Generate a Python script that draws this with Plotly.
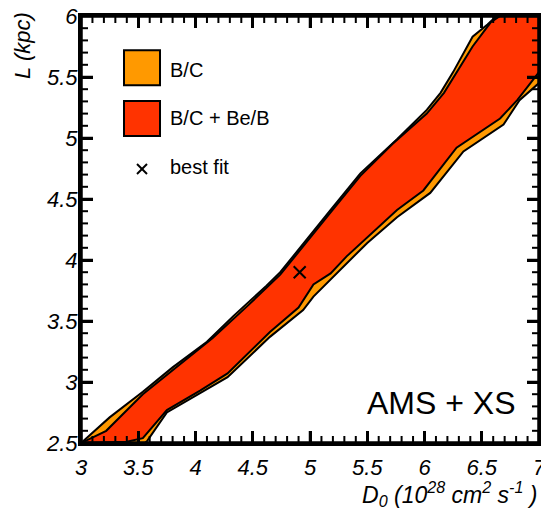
import plotly.graph_objects as go

# B/C allowed region (outer, orange)
bc_d0 = [3.00, 3.25, 3.54, 3.80, 4.10, 4.33, 4.62, 4.74, 5.18, 5.44, 5.76, 6.02, 6.14, 6.25, 6.42, 6.55, 6.63,
         7.00, 7.00,
         6.83, 6.69, 6.34, 6.05, 5.76, 5.50, 5.18, 5.03, 4.94, 4.65, 4.28, 4.04, 3.75, 3.58, 3.56, 3.00]
bc_L = [2.50, 2.71, 2.92, 3.12, 3.33, 3.54, 3.79, 3.90, 4.41, 4.71, 4.99, 5.23, 5.37, 5.54, 5.83, 5.93, 6.00,
        6.00, 5.45,
        5.31, 5.11, 4.89, 4.55, 4.35, 4.14, 3.84, 3.70, 3.59, 3.37, 3.04, 2.91, 2.75, 2.52, 2.50, 2.50]

# B/C + Be/B allowed region (inner, red)
bcbe_d0 = [3.00, 3.22, 3.54, 3.84, 4.15, 4.45, 4.74, 5.18, 5.44, 5.72, 6.02, 6.17, 6.42, 6.58, 6.66,
           7.00, 7.00,
           6.81, 6.66, 6.28, 5.99, 5.76, 5.32, 5.18, 5.03, 4.90, 4.65, 4.28, 4.04, 3.75, 3.54, 3.40, 3.00]
bcbe_L = [2.50, 2.60, 2.90, 3.13, 3.36, 3.62, 3.88, 4.39, 4.69, 4.95, 5.20, 5.37, 5.75, 5.95, 6.00,
          6.00, 5.54,
          5.31, 5.16, 4.92, 4.57, 4.41, 4.03, 3.89, 3.80, 3.61, 3.41, 3.07, 2.93, 2.77, 2.54, 2.51, 2.50]

best_d0 = [4.91]
best_L = [3.90]

x_ticks = [3, 3.5, 4, 4.5, 5, 5.5, 6, 6.5, 7]
x_labels = ["3", "3.5", "4", "4.5", "5", "5.5", "6", "6.5", "7"]
y_ticks = [2.5, 3, 3.5, 4, 4.5, 5, 5.5, 6]
y_labels = ["2.5", "3", "3.5", "4", "4.5", "5", "5.5", "6"]
minor_per_major = 5

ORANGE = "#FF9900"
RED = "#FF3300"
FONT = "Liberation Sans, Arial, Helvetica, sans-serif"

PW, PH = 458, 427          # plot-area size in px
MAJ_LEN, MIN_LEN = 12, 7   # tick lengths in px

x0r, x1r = x_ticks[0], x_ticks[-1]
y0r, y1r = y_ticks[0], y_ticks[-1]
px_x = (x1r - x0r) / PW    # data units per px along x
px_y = (y1r - y0r) / PH    # data units per px along y


def minor_positions(ticks):
    out = []
    for a, b in zip(ticks[:-1], ticks[1:]):
        step = (b - a) / minor_per_major
        out += [round(a + k * step, 6) for k in range(1, minor_per_major)]
    return out


def tick_path(xvals, yvals, ln):
    """Inside ticks on all four sides, one polyline with gaps."""
    xs, ys = [], []
    dy, dx = ln * px_y, ln * px_x
    for v in xvals:
        xs += [v, v, None, v, v, None]
        ys += [y0r, y0r + dy, None, y1r - dy, y1r, None]
    for v in yvals:
        xs += [x0r, x0r + dx, None, x1r - dx, x1r, None]
        ys += [v, v, None, v, v, None]
    return xs, ys


fig = go.Figure()
fig.add_trace(go.Scatter(x=bc_d0, y=bc_L, mode="lines", fill="toself", fillcolor=ORANGE,
                         line=dict(color="black", width=2), showlegend=False, hoverinfo="skip"))
fig.add_trace(go.Scatter(x=bcbe_d0, y=bcbe_L, mode="lines", fill="toself", fillcolor=RED,
                         line=dict(color="black", width=2), showlegend=False, hoverinfo="skip"))
fig.add_trace(go.Scatter(x=best_d0, y=best_L, mode="markers",
                         marker=dict(symbol="x-thin", size=12, color="black",
                                     line=dict(color="black", width=2)),
                         showlegend=False, hoverinfo="skip"))

mx, my = tick_path(x_ticks, y_ticks, MAJ_LEN)
fig.add_trace(go.Scatter(x=mx, y=my, mode="lines", line=dict(color="black", width=2.5),
                         connectgaps=False, showlegend=False, hoverinfo="skip"))
nx, ny = tick_path(minor_positions(x_ticks), minor_positions(y_ticks), MIN_LEN)
fig.add_trace(go.Scatter(x=nx, y=ny, mode="lines", line=dict(color="black", width=2),
                         connectgaps=False, showlegend=False, hoverinfo="skip"))
# frame along the axis ranges
fig.add_trace(go.Scatter(x=[x0r, x1r, x1r, x0r, x0r], y=[y0r, y0r, y1r, y1r, y0r], mode="lines",
                         line=dict(color="black", width=3), showlegend=False, hoverinfo="skip"))

fig.update_xaxes(
    range=[x0r, x1r], tickvals=x_ticks, ticktext=x_labels,
    showline=True, linewidth=3, linecolor="black", mirror="ticks",
    ticks="inside", ticklen=MAJ_LEN, tickwidth=2.5, tickcolor="black",
    showgrid=False, zeroline=False, automargin=False,
    ticklabeloverflow="allow", ticklabelstandoff=3,
    tickfont=dict(family=FONT, size=22, color="black", style="italic"),
)
fig.update_yaxes(
    range=[y0r, y1r], tickvals=y_ticks, ticktext=y_labels,
    showline=True, linewidth=3, linecolor="black", mirror="ticks",
    ticks="inside", ticklen=MAJ_LEN, tickwidth=2.5, tickcolor="black",
    showgrid=False, zeroline=False, automargin=False,
    ticklabeloverflow="allow", ticklabelstandoff=-4,
    tickfont=dict(family=FONT, size=22, color="black", style="italic"),
)

shapes = [
    dict(type="rect", xref="paper", yref="paper", x0=0, x1=1, y0=0, y1=1,
         line=dict(color="black", width=3), fillcolor="rgba(0,0,0,0)", layer="above"),
    dict(type="rect", xref="paper", yref="paper", x0=0.0939, x1=0.1725, y0=0.838, y1=0.920,
         fillcolor=ORANGE, line=dict(color="black", width=2)),
    dict(type="rect", xref="paper", yref="paper", x0=0.0939, x1=0.1725, y0=0.719, y1=0.801,
         fillcolor=RED, line=dict(color="black", width=2)),
    dict(type="line", xref="paper", yref="paper", x0=0.1223, x1=0.1441, y0=0.6300, y1=0.6534,
         line=dict(color="black", width=2)),
    dict(type="line", xref="paper", yref="paper", x0=0.1223, x1=0.1441, y0=0.6534, y1=0.6300,
         line=dict(color="black", width=2)),
]

annotations = [
    dict(text="B/C", xref="paper", yref="paper", x=0.19, y=0.874, xanchor="left", yanchor="middle",
         showarrow=False, font=dict(family=FONT, size=20, color="black")),
    dict(text="B/C + Be/B", xref="paper", yref="paper", x=0.19, y=0.761, xanchor="left", yanchor="middle",
         showarrow=False, font=dict(family=FONT, size=20, color="black")),
    dict(text="best fit", xref="paper", yref="paper", x=0.19, y=0.646, xanchor="left", yanchor="middle",
         showarrow=False, font=dict(family=FONT, size=20, color="black")),
    dict(text="AMS + XS", xref="paper", yref="paper", x=0.954, y=0.094, xanchor="right", yanchor="middle",
         showarrow=False, font=dict(family=FONT, size=32, color="black")),
    dict(text="D<sub>0</sub> (10<sup>28</sup> cm<sup>2</sup> s<sup>-1</sup> )", xref="paper", yref="paper",
         x=1.0, y=-0.119, xanchor="right", yanchor="middle", showarrow=False,
         font=dict(family=FONT, size=23, color="black", style="italic")),
    dict(text="L (kpc)", xref="paper", yref="paper", x=-0.129, y=0.932, xanchor="center", yanchor="middle",
         textangle=-90, showarrow=False, font=dict(family=FONT, size=22, color="black", style="italic")),
]

fig.update_layout(
    width=549, height=512, autosize=False,
    margin=dict(l=73, r=18, t=8, b=77, autoexpand=False),
    paper_bgcolor="white", plot_bgcolor="white",
    shapes=shapes, annotations=annotations, showlegend=False,
)

fig.write_html("out.html")
